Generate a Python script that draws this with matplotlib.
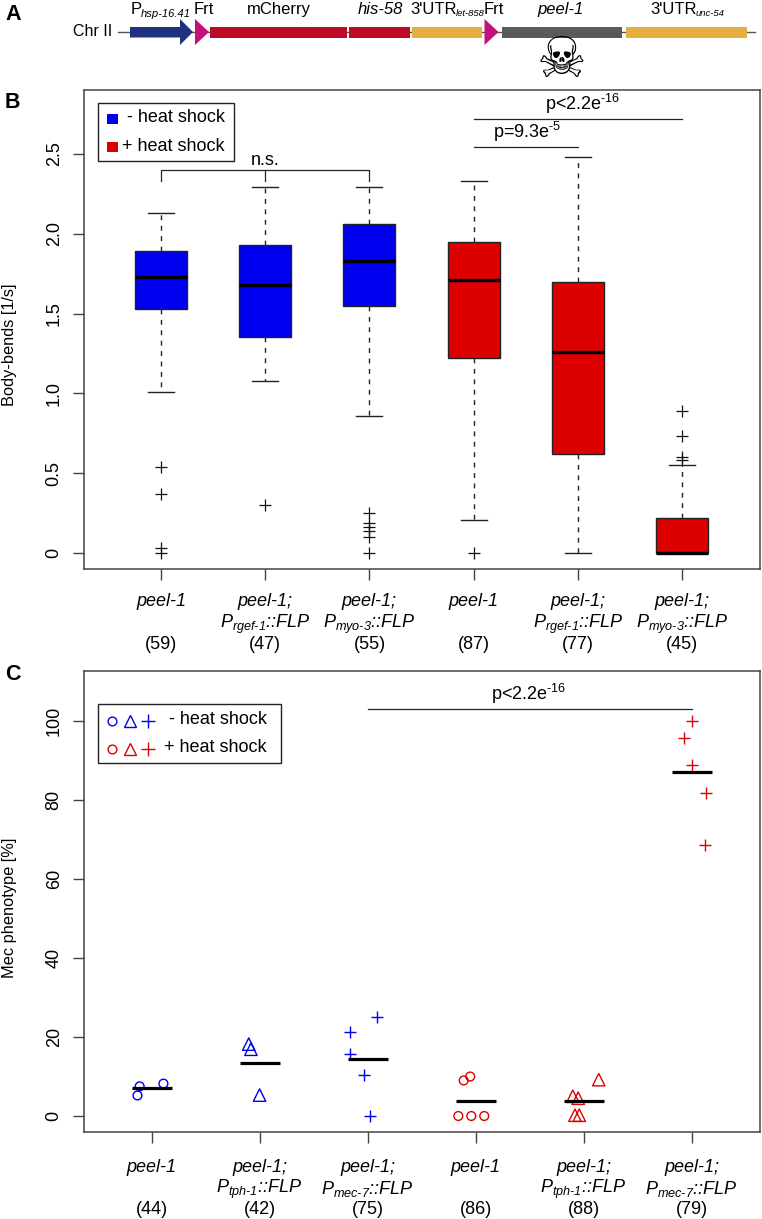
import matplotlib
matplotlib.use("Agg")
import matplotlib.pyplot as plt
from matplotlib.patches import Rectangle, Polygon

plt.rcParams["font.family"] = ["Liberation Sans", "DejaVu Sans"]
plt.rcParams["mathtext.fontset"] = "custom"
# italic roman so digits in the subscripts slant too, sf stays upright for exponents
plt.rcParams["mathtext.rm"] = "Liberation Sans:italic"
plt.rcParams["mathtext.it"] = "Liberation Sans:italic"
plt.rcParams["mathtext.sf"] = "Liberation Sans"
plt.rcParams["mathtext.bf"] = "Liberation Sans:bold"

BLUE = "#0000f0"
RED = "#dc0000"
AXC = "#444444"
W, H = 762, 1219
FS = 13

# panel B values
b_whislo = [1.01, 1.08, 0.86, 0.21, 0.0, 0.0]
b_q1 = [1.53, 1.35, 1.55, 1.22, 0.62, 0.0]
b_med = [1.73, 1.68, 1.83, 1.71, 1.26, 0.0]
b_q3 = [1.89, 1.93, 2.06, 1.95, 1.70, 0.22]
b_whishi = [2.13, 2.29, 2.29, 2.33, 2.48, 0.55]
b_fliers = [
    [0.54, 0.37, 0.03, 0.0],
    [0.30],
    [0.25, 0.19, 0.16, 0.14, 0.10, 0.0],
    [0.0],
    [],
    [0.89, 0.73, 0.60, 0.58],
]
b_colors = [BLUE, BLUE, BLUE, RED, RED, RED]
b_names = [
    "peel-1",
    "peel-1;\n$\\mathrm{P_{rgef‐1}}$::FLP",
    "peel-1;\n$\\mathrm{P_{myo‐3}}$::FLP",
    "peel-1",
    "peel-1;\n$\\mathrm{P_{rgef‐1}}$::FLP",
    "peel-1;\n$\\mathrm{P_{myo‐3}}$::FLP",
]
b_counts = ["(59)", "(47)", "(55)", "(87)", "(77)", "(45)"]
b_yticks = [0, 0.5, 1.0, 1.5, 2.0, 2.5]
b_yticklabels = ["0", "0.5", "1.0", "1.5", "2.0", "2.5"]

# panel C values
c_x_blue_circle = [0.89, 1.11, 0.87]
c_y_blue_circle = [7.5, 8.2, 5.2]
c_x_blue_tri = [1.90, 1.92, 2.0]
c_y_blue_tri = [18.2, 16.9, 5.3]
c_x_blue_plus = [3.09, 2.84, 2.84, 2.97, 3.02]
c_y_blue_plus = [25.0, 21.3, 15.7, 10.4, 0.0]
c_x_red_circle = [3.89, 3.95, 3.84, 3.96, 4.08]
c_y_red_circle = [9.0, 10.0, 0.0, 0.0, 0.0]
c_x_red_tri = [4.90, 4.95, 5.14, 4.92, 4.96]
c_y_red_tri = [5.0, 4.5, 9.2, 0.2, 0.2]
c_x_red_plus = [6.0, 5.93, 6.0, 6.13, 6.12]
c_y_red_plus = [100.0, 95.7, 88.9, 81.8, 68.5]
c_means = [7.0, 13.4, 14.5, 3.8, 3.7, 87.0]
c_names = [
    "peel-1",
    "peel-1;\n$\\mathrm{P_{tph‐1}}$::FLP",
    "peel-1;\n$\\mathrm{P_{mec‐7}}$::FLP",
    "peel-1",
    "peel-1;\n$\\mathrm{P_{tph‐1}}$::FLP",
    "peel-1;\n$\\mathrm{P_{mec‐7}}$::FLP",
]
c_counts = ["(44)", "(42)", "(75)", "(86)", "(88)", "(79)"]
c_yticks = [0, 20, 40, 60, 80, 100]


def make_axes(left, right, top, bottom):
    return fig.add_axes([left / W, 1 - bottom / H, (right - left) / W, (bottom - top) / H])


def style_axes(ax):
    for s in ax.spines.values():
        s.set_color(AXC)
        s.set_linewidth(1.1)
    ax.tick_params(length=8, width=1.0, color=AXC, labelsize=FS, pad=7)
    ax.tick_params(axis="x", labelbottom=False)
    for t in ax.get_yticklabels():
        t.set_rotation(90)
        t.set_va("center")


def group_labels(ax, names, counts, line1, line2, line3, bottom):
    for i, (name, count) in enumerate(zip(names, counts)):
        parts = name.split("\n")
        xform = ax.get_xaxis_transform()
        ax.annotate(parts[0], (i + 1, 0), xycoords=xform, xytext=(0, bottom - line1),
                    textcoords="offset pixels", ha="center", va="center",
                    style="italic", fontsize=FS)
        if len(parts) > 1:
            ax.annotate(parts[1], (i + 1, 0), xycoords=xform, xytext=(0, bottom - line2),
                        textcoords="offset pixels", ha="center", va="center",
                        style="italic", fontsize=FS)
        ax.annotate(count, (i + 1, 0), xycoords=xform, xytext=(0, bottom - line3),
                    textcoords="offset pixels", ha="center", va="center", fontsize=FS)


fig = plt.figure(figsize=(W / 100, H / 100), dpi=100)

# panel B
axb = make_axes(83.5, 760, 90, 569)
stats = []
for i in range(6):
    stats.append({
        "whislo": b_whislo[i], "q1": b_q1[i], "med": b_med[i], "q3": b_q3[i],
        "whishi": b_whishi[i], "fliers": b_fliers[i],
    })
bp = axb.bxp(
    stats,
    positions=range(1, 7),
    widths=0.5,
    patch_artist=True,
    manage_ticks=False,
    boxprops={"edgecolor": "#222222", "linewidth": 1.0},
    medianprops={"color": "black", "linewidth": 2.4, "solid_capstyle": "butt"},
    whiskerprops={"color": "#222222", "linewidth": 1.0, "linestyle": (0, (3.5, 4))},
    capprops={"color": "#222222", "linewidth": 1.0},
    capwidths=0.25,
    flierprops={"marker": "+", "markersize": 9, "markeredgecolor": "#111111",
                "markeredgewidth": 0.9},
)
for patch, col in zip(bp["boxes"], b_colors):
    patch.set_facecolor(col)
axb.set_xlim(0.256, 6.748)
axb.set_ylim(-0.10, 2.90)
axb.set_xticks(range(1, 7))
axb.set_yticks(b_yticks, labels=b_yticklabels)
style_axes(axb)
group_labels(axb, b_names, b_counts, 602, 624, 645, 569)

axb.plot([1, 1, 3, 3], [2.33, 2.40, 2.40, 2.33], color="#222222", lw=0.9)
axb.plot([2, 2], [2.33, 2.40], color="#222222", lw=0.9)
axb.text(2, 2.405, "n.s.", ha="center", va="bottom", fontsize=FS)
axb.plot([4, 5], [2.54, 2.54], color="#222222", lw=0.9)
axb.text(4.51, 2.56, "p=9.3e$^{\\mathsf{‐5}}$", ha="center", va="bottom", fontsize=FS)
axb.plot([4, 6], [2.72, 2.72], color="#222222", lw=0.9)
axb.text(5.05, 2.735, "p<2.2e$^{\\mathsf{‐16}}$", ha="center", va="bottom", fontsize=FS)

# panel C
axc = make_axes(83.5, 760, 671, 1132)
axc.scatter(c_x_blue_circle, c_y_blue_circle, marker="o", facecolors="none", edgecolors=BLUE,
            s=40, linewidths=1.0, zorder=3)
axc.scatter(c_x_blue_tri, c_y_blue_tri, marker="^", facecolors="none", edgecolors=BLUE,
            s=80, linewidths=1.0, zorder=3)
axc.scatter(c_x_blue_plus, c_y_blue_plus, marker="+", color=BLUE, s=85, linewidths=1.0, zorder=3)
axc.scatter(c_x_red_circle, c_y_red_circle, marker="o", facecolors="none", edgecolors=RED,
            s=40, linewidths=1.0, zorder=3)
axc.scatter(c_x_red_tri, c_y_red_tri, marker="^", facecolors="none", edgecolors=RED,
            s=80, linewidths=1.0, zorder=3)
axc.scatter(c_x_red_plus, c_y_red_plus, marker="+", color=RED, s=85, linewidths=1.0, zorder=3)
for i, m in enumerate(c_means):
    axc.plot([i + 1 - 0.185, i + 1 + 0.185], [m, m], color="black", lw=2.3,
             solid_capstyle="butt", zorder=4)
axc.set_xlim(0.37, 6.633)
axc.set_ylim(-4.05, 112.66)
axc.set_xticks(range(1, 7))
axc.set_yticks(c_yticks)
style_axes(axc)
group_labels(axc, c_names, c_counts, 1167, 1189, 1209, 1132)
axc.plot([3, 6], [103, 103], color="#222222", lw=0.9)
axc.text(4.49, 103.8, "p<2.2e$^{\\mathsf{‐16}}$", ha="center", va="bottom", fontsize=FS)

# overlay in pixel coordinates: panel A, letters, legends
ov = fig.add_axes([0, 0, 1, 1], zorder=5)
ov.set_xlim(0, W)
ov.set_ylim(H, 0)
ov.axis("off")
ov.patch.set_alpha(0)

ov.text(10, 345, "Body-bends [1/s]", rotation=90, ha="center", va="center", fontsize=11.8)
ov.text(10, 908, "Mec phenotype [%]", rotation=90, ha="center", va="center", fontsize=11.8)


def seg(x0, x1, col):
    ov.add_patch(Rectangle((x0, 27), x1 - x0, 10.5, facecolor=col, edgecolor="none", zorder=2))


ov.plot([118, 755], [32, 32], color="#555555", lw=1.0, zorder=1)
ov.add_patch(Polygon([(130, 27), (180, 27), (180, 19), (193, 32), (180, 45), (180, 37.5), (130, 37.5)],
                     facecolor="#1f3280", edgecolor="none", zorder=2))
seg(210, 347, "#bf0a26")
seg(349, 410, "#bf0a26")
seg(412, 482, "#e6b040")
seg(502, 622, "#5a5a5a")
seg(626, 747, "#e6b040")
for x0 in (195, 484.5):
    ov.add_patch(Polygon([(x0, 19), (x0 + 14, 32), (x0, 45)], facecolor="#c4107a", edgecolor="none", zorder=3))

ov.text(112, 32, "Chr II", ha="right", va="center", fontsize=11.5)
ov.text(131, 9.5, "P", ha="left", va="center", fontsize=12)
ov.text(141, 14, "hsp-16.41", ha="left", va="center", style="italic", fontsize=8)
ov.text(204, 9.5, "Frt", ha="center", va="center", fontsize=12)
ov.text(279, 9.5, "mCherry", ha="center", va="center", fontsize=12)
ov.text(380, 9.5, "his-58", ha="center", va="center", style="italic", fontsize=12)
ov.text(410, 9.5, "3'UTR", ha="left", va="center", fontsize=12)
ov.text(456, 14, "let-858", ha="left", va="center", style="italic", fontsize=6.8)
ov.text(494, 9.5, "Frt", ha="center", va="center", fontsize=12)
ov.text(561, 9.5, "peel-1", ha="center", va="center", style="italic", fontsize=12)
ov.text(650, 9.5, "3'UTR", ha="left", va="center", fontsize=12)
ov.text(696, 14, "unc-54", ha="left", va="center", style="italic", fontsize=6.8)
ov.text(562, 62, "\u2620", ha="center", va="center", fontsize=40, family="DejaVu Sans")

for letter, y in (("A", 15), ("B", 102), ("C", 675)):
    ov.text(5, y, letter, ha="left", va="center", fontweight="bold", fontsize=15.5)

# legend B
ov.add_patch(Rectangle((97.5, 102.5), 136, 58, facecolor="white", edgecolor="#222222", lw=1.0, zorder=6))
ov.add_patch(Rectangle((107, 114), 11, 10, facecolor=BLUE, edgecolor="none", zorder=7))
ov.add_patch(Rectangle((107, 142), 11, 10, facecolor=RED, edgecolor="none", zorder=7))
ov.text(127, 118, "- heat shock", ha="left", va="center", fontsize=13, zorder=7)
ov.text(122.5, 146.5, "+ heat shock", ha="left", va="center", fontsize=13, zorder=7)

# legend C
ov.add_patch(Rectangle((97.5, 704), 183, 59, facecolor="white", edgecolor="#222222", lw=1.0, zorder=6))
for y, col, txt, tx in ((721, BLUE, "- heat shock", 169), (749, RED, "+ heat shock", 164)):
    ov.plot([112], [y], marker="o", ms=6.3, mfc="none", mec=col, mew=1.0, zorder=7)
    ov.plot([130], [y], marker="^", ms=8.5, mfc="none", mec=col, mew=1.0, zorder=7)
    ov.plot([148], [y], marker="+", ms=9.6, mec=col, mew=1.0, zorder=7)
    ov.text(tx, y - 1, txt, ha="left", va="center", fontsize=13, zorder=7)

fig.savefig("out.png", dpi=100)
